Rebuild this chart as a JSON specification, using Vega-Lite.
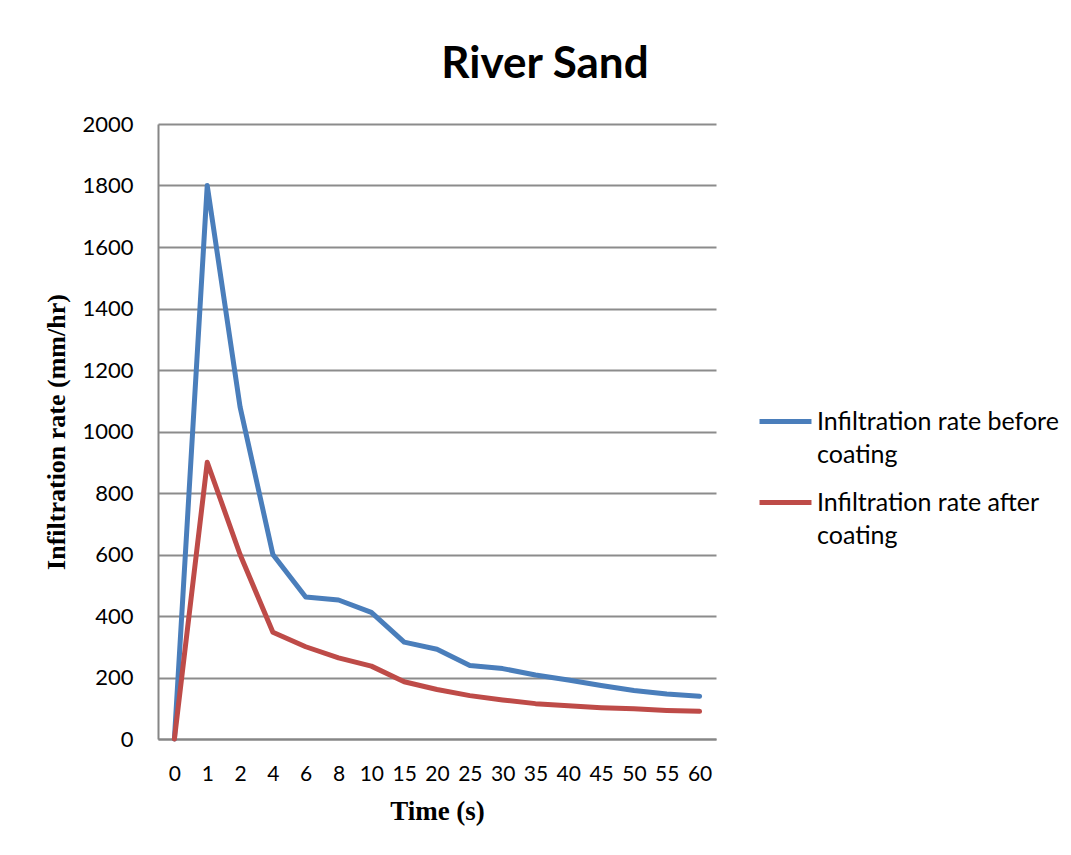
{
  "$schema": "https://vega.github.io/schema/vega-lite/v6.json",
  "width": 558,
  "height": 615,
  "autosize": {"type": "none"},
  "padding": {"left": 158, "top": 124, "right": 355, "bottom": 116},
  "background": "white",
  "title": {
    "text": "River Sand",
    "font": "Lato",
    "fontSize": 44,
    "fontWeight": "bold",
    "color": "#000000",
    "anchor": "middle",
    "dx": 108,
    "offset": 26
  },
  "data": {
    "values": [
      {"time": "0", "series": "Infiltration rate before coating", "rate": 0},
      {"time": "1", "series": "Infiltration rate before coating", "rate": 1800},
      {"time": "2", "series": "Infiltration rate before coating", "rate": 1080},
      {"time": "4", "series": "Infiltration rate before coating", "rate": 600},
      {"time": "6", "series": "Infiltration rate before coating", "rate": 462},
      {"time": "8", "series": "Infiltration rate before coating", "rate": 452},
      {"time": "10", "series": "Infiltration rate before coating", "rate": 412},
      {"time": "15", "series": "Infiltration rate before coating", "rate": 315},
      {"time": "20", "series": "Infiltration rate before coating", "rate": 292},
      {"time": "25", "series": "Infiltration rate before coating", "rate": 239},
      {"time": "30", "series": "Infiltration rate before coating", "rate": 229},
      {"time": "35", "series": "Infiltration rate before coating", "rate": 208},
      {"time": "40", "series": "Infiltration rate before coating", "rate": 192},
      {"time": "45", "series": "Infiltration rate before coating", "rate": 174},
      {"time": "50", "series": "Infiltration rate before coating", "rate": 158},
      {"time": "55", "series": "Infiltration rate before coating", "rate": 146},
      {"time": "60", "series": "Infiltration rate before coating", "rate": 139},
      {"time": "0", "series": "Infiltration rate after coating", "rate": 0},
      {"time": "1", "series": "Infiltration rate after coating", "rate": 900},
      {"time": "2", "series": "Infiltration rate after coating", "rate": 600},
      {"time": "4", "series": "Infiltration rate after coating", "rate": 347},
      {"time": "6", "series": "Infiltration rate after coating", "rate": 300},
      {"time": "8", "series": "Infiltration rate after coating", "rate": 264},
      {"time": "10", "series": "Infiltration rate after coating", "rate": 237},
      {"time": "15", "series": "Infiltration rate after coating", "rate": 186},
      {"time": "20", "series": "Infiltration rate after coating", "rate": 161},
      {"time": "25", "series": "Infiltration rate after coating", "rate": 141},
      {"time": "30", "series": "Infiltration rate after coating", "rate": 127},
      {"time": "35", "series": "Infiltration rate after coating", "rate": 115},
      {"time": "40", "series": "Infiltration rate after coating", "rate": 108},
      {"time": "45", "series": "Infiltration rate after coating", "rate": 102},
      {"time": "50", "series": "Infiltration rate after coating", "rate": 98},
      {"time": "55", "series": "Infiltration rate after coating", "rate": 93},
      {"time": "60", "series": "Infiltration rate after coating", "rate": 90}
    ]
  },
  "mark": {"type": "line", "strokeWidth": 5, "strokeCap": "round", "strokeJoin": "round"},
  "encoding": {
    "x": {
      "field": "time",
      "type": "ordinal",
      "sort": null,
      "scale": {"type": "point", "padding": 0.5},
      "axis": {
        "title": "Time (s)",
        "titleFont": "Liberation Serif",
        "titleFontSize": 27,
        "titleFontWeight": "bold",
        "titleColor": "#000000",
        "titlePadding": 14,
        "labelFont": "Lato",
        "labelFontSize": 21,
        "labelColor": "#000000",
        "labelAngle": 0,
        "labelPadding": 24,
        "ticks": false,
        "domainColor": "#868686",
        "domainWidth": 2
      }
    },
    "y": {
      "field": "rate",
      "type": "quantitative",
      "scale": {"domain": [0, 2000]},
      "axis": {
        "title": "Infiltration rate (mm/hr)",
        "titleFont": "Liberation Serif",
        "titleFontSize": 26,
        "titleFontWeight": "bold",
        "titleColor": "#000000",
        "titlePadding": 12,
        "values": [0, 200, 400, 600, 800, 1000, 1200, 1400, 1600, 1800, 2000],
        "format": "d",
        "labelFont": "Lato",
        "labelFontSize": 22,
        "labelColor": "#000000",
        "labelPadding": 25,
        "ticks": false,
        "grid": true,
        "gridColor": "#8c8c8c",
        "gridWidth": 2,
        "domainColor": "#868686",
        "domainWidth": 2
      }
    },
    "color": {
      "field": "series",
      "type": "nominal",
      "sort": ["Infiltration rate before coating", "Infiltration rate after coating"],
      "scale": {
        "domain": ["Infiltration rate before coating", "Infiltration rate after coating"],
        "range": ["#4a7ebb", "#be4b48"]
      },
      "legend": {
        "title": null,
        "orient": "none",
        "legendX": 599,
        "legendY": 269,
        "symbolType": "stroke",
        "symbolSize": 2700,
        "symbolStrokeWidth": 5,
        "labelFont": "Lato",
        "labelFontSize": 25,
        "labelColor": "#000000",
        "labelOffset": 3,
        "labelLimit": 400,
        "labelBaseline": "middle",
        "rowPadding": 6,
        "labelExpr": "datum.label == 'Infiltration rate before coating' ? ['Infiltration rate before', 'coating'] : ['Infiltration rate after', 'coating']",
        "encode": {
          "labels": {
            "update": {
              "lineHeight": {"value": 33}
            }
          }
        }
      }
    }
  },
  "config": {
    "view": {"stroke": null}
  }
}
